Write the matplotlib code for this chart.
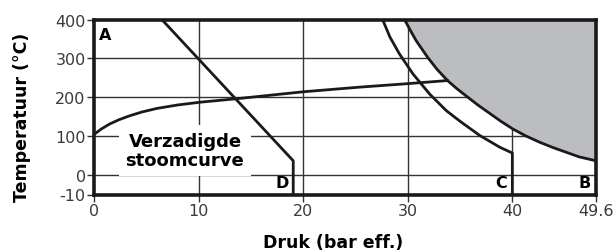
import numpy as np
import matplotlib.pyplot as plt

plt.rcParams['font.family'] = ['DejaVu Sans']

# x positions in axis units (the right edge, labelled 49.6, sits at 48)
# y bottom edge labelled -10 sits at -51 (the original axis is stretched there)
x_ticks = [0, 10, 20, 30, 40, 48]
x_labels = ['0', '10', '20', '30', '40', '49.6']
y_ticks = [-51, 0, 100, 200, 300, 400]
y_labels = ['-10', '0', '100', '200', '300', '400']

# verzadigde stoomcurve
steam_p = [0, 0.7, 1.5, 2.4, 3.4, 4.6, 6.0, 8.0, 10.1, 13.6, 16.8, 20.0, 25.4, 30.0, 33.8]
steam_t = [104, 118, 131, 142, 152, 162, 171, 180, 187, 196, 205, 214, 226, 235, 243]

# curve B (grens grijs gebied)
b_p = [29.7, 30.3, 30.8, 31.9, 32.8, 33.8, 34.7, 35.6, 36.7, 37.8, 38.9, 40.05,
       41.3, 42.6, 43.9, 45.15, 46.4, 48.0]
b_t = [400, 370, 346, 303, 272, 243, 222, 203, 180, 159, 138, 118,
       100, 84, 70, 58, 46, 36]

# curve C
c_p = [27.6, 28.3, 29.2, 30.5, 32.1, 33.7, 35.0, 36.9, 38.8, 40.0, 40.0]
c_t = [400, 355, 312, 260, 208, 165, 138, 101, 71, 56, -51]

# lijn D
d_p = [6.5, 19.05, 19.05]
d_t = [400, 36, -51]

fig = plt.figure(figsize=(6.16, 2.53), dpi=100)
ax = fig.add_axes([94/616, 1-195.5/253, 502/616, 174.8/253])

ax.set_xlim(0, 48)
ax.set_ylim(-51, 400)

for v in [10, 20, 30, 40]:
    ax.axvline(v, color='#333333', lw=1.0, zorder=1)
for v in [0, 100, 200, 300]:
    ax.axhline(v, color='#333333', lw=1.0, zorder=1)

ax.fill_between(b_p, b_t, 400, color='#bcbdc0', zorder=2, lw=0)
ax.plot(b_p, b_t, color='#1a1a1a', lw=2.0, zorder=3)
ax.plot(c_p, c_t, color='#1a1a1a', lw=2.0, zorder=3)
ax.plot(d_p, d_t, color='#1a1a1a', lw=2.0, zorder=3)
ax.plot(steam_p, steam_t, color='#1a1a1a', lw=2.0, zorder=3)

ax.text(0.45, 363, 'A', fontsize=11.5, fontweight='bold', va='center', ha='left', zorder=5)
ax.text(18.0, -21, 'D', fontsize=11.5, fontweight='bold', va='center', ha='center', zorder=5)
ax.text(38.9, -21, 'C', fontsize=11.5, fontweight='bold', va='center', ha='center', zorder=5)
ax.text(46.9, -21, 'B', fontsize=11.5, fontweight='bold', va='center', ha='center', zorder=5)
ax.text(8.7, 62, 'Verzadigde\nstoomcurve', fontsize=13, fontweight='bold',
        ha='center', va='center', linespacing=1.05, zorder=6,
        bbox=dict(facecolor='white', edgecolor='none', pad=5))

ax.set_xticks(x_ticks)
ax.set_xticklabels(x_labels)
ax.set_yticks(y_ticks)
ax.set_yticklabels(y_labels)
ax.tick_params(direction='out', length=5, width=1, color='#333333',
               labelsize=11.5, labelcolor='#3a3a3a', pad=1)
for s in ax.spines.values():
    s.set_linewidth(2.6)
    s.set_color('#1a1a1a')
    s.set_zorder(7)

ax.set_xlabel('Druk (bar eff.)', fontsize=12.5, fontweight='bold', va='center')
ax.set_ylabel('Temperatuur (°C)', fontsize=12.5, fontweight='bold', va='center')
ax.xaxis.set_label_coords(0.477, -0.272)
ax.yaxis.set_label_coords(-0.143, 0.449)

fig.savefig('out.png', dpi=100)
